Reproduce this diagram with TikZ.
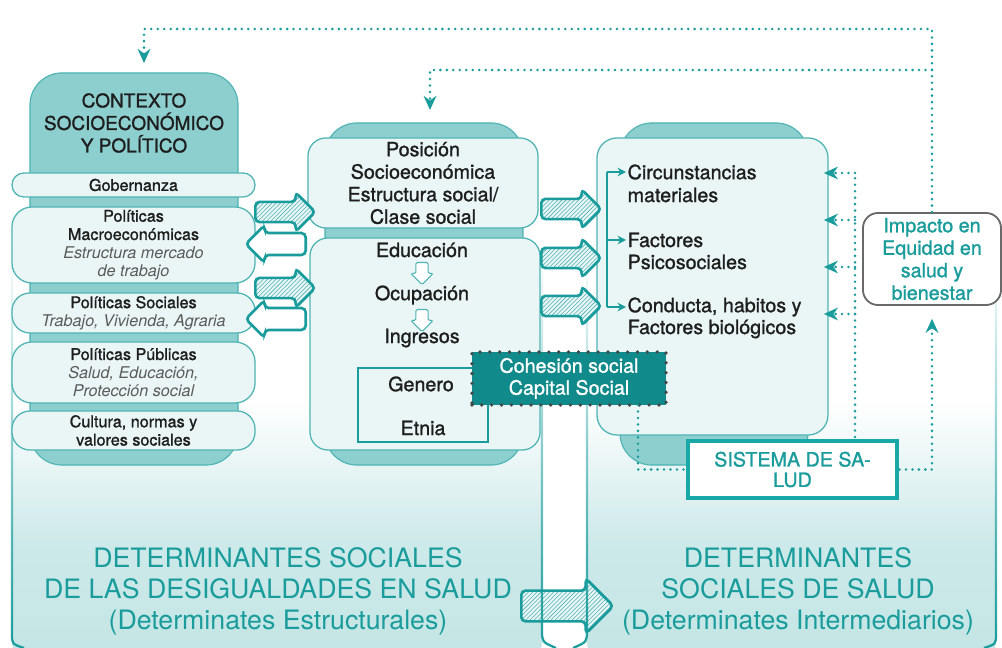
\documentclass[tikz,border=0pt]{standalone}
\usepackage{fontspec}
\setmainfont{TeX Gyre Heros}
\newfontfamily\medfont{TeX Gyre Heros}[FakeBold=1.2]
\usetikzlibrary{arrows.meta,shapes.arrows,patterns,fadings}

\definecolor{tealD}{RGB}{16,138,138}
\definecolor{tealA}{RGB}{26,156,156}
\definecolor{tealS}{RGB}{25,168,168}
\definecolor{tealB}{RGB}{78,180,180}
\definecolor{tealM}{RGB}{141,206,206}
\definecolor{tealL}{RGB}{234,245,245}
\definecolor{panelB}{RGB}{196,229,229}
\definecolor{ink}{RGB}{30,30,30}
\definecolor{inkgray}{RGB}{90,90,90}
\definecolor{dotgray}{RGB}{70,70,70}
\definecolor{rimgray}{RGB}{105,105,105}

\pgfdeclareverticalshading{panelshade}{100bp}{color(0bp)=(panelB); color(25bp)=(panelB); color(34bp)=(panelB!85!white); color(45bp)=(white); color(100bp)=(white)}
\tikzfading[name=fadeup, bottom color=transparent!0, middle color=transparent!60, top color=transparent!100]

\newcommand\subnote[1]{{\rmfamily\itshape\color{inkgray}#1}}

\tikzset{
  panel/.style={shading=panelshade},
  panelrim/.style={draw=tealA, line width=1.6pt, path fading=fadeup},
  backdrop/.style={draw=tealB, fill=tealM, line width=0.8pt, rounded corners=0.8cm},
  layer/.style={draw=tealB, fill=tealL, line width=0.9pt, align=center, inner sep=1pt},
  smalltxt/.style={font=\medfont\fontsize{11.5}{13}\selectfont, text=ink},
  bigtxt/.style={font=\medfont\fontsize{14}{16}\selectfont, text=ink},
  linetxt/.style={bigtxt, anchor=west, inner xsep=1pt},
  bottomtxt/.style={font=\fontsize{19}{22}\selectfont, text=tealA, align=center},
  hatch/.style={single arrow, anchor=tail, single arrow head extend=0.24cm, minimum height=1.5cm,
    inner xsep=0pt, inner ysep=0.22cm, draw=tealA, line width=1.9pt, rounded corners=3pt,
    preaction={fill=tealL}, pattern=north east lines, pattern color=tealB},
  blank/.style={single arrow, anchor=tail, rotate=180, single arrow head extend=0.2cm, minimum height=1.5cm,
    inner xsep=0pt, inner ysep=0.24cm, draw=tealA, line width=1.9pt, rounded corners=3pt,
    fill=white},
  hollow/.style={single arrow, anchor=tail, rotate=-90, single arrow head extend=0.125cm, minimum height=0.55cm,
    inner xsep=0pt, inner ysep=0.14cm, draw=tealB, fill=white, line width=0.8pt, rounded corners=1pt},
  brk/.style={tealA, line width=1pt, -{Stealth[length=6pt,width=6pt]}},
  dotline/.style={tealA, line width=2pt, line cap=round, dash pattern=on 0pt off 4.6pt},
  dotarrow/.style={dotline, -{Stealth[length=10pt,width=9pt]}}
}

\begin{document}
\begin{tikzpicture}[x=0.025cm, y=-0.025cm]
\useasboundingbox (0,0) rectangle (1002,648);

% two big panels
\path[panel, rounded corners=0.5cm] (12,10) rectangle (542,662);
\path[panel, rounded corners=0.5cm] (587,10) rectangle (996,662);
\node[hatch, minimum height=2.3cm, inner ysep=0.35cm, single arrow head extend=0.31cm] (across) at (520,606) {};
\draw[panelrim] (12,250) -- (12,634) .. controls (12,644) .. (24,648);
\draw[panelrim] (542,250) -- (542,630) .. controls (542,642) .. (556,648);
\draw[panelrim] (587,250) -- (587,630) .. controls (587,642) .. (573,648);
\draw[panelrim] (996,250) -- (996,634) .. controls (996,644) .. (984,648);

% backdrops
\node[backdrop, minimum width=5.2cm, minimum height=9.8cm] (ctxbg) at (134,269) {};
\node[backdrop, minimum width=4.95cm, minimum height=8.55cm] (posbg) at (424,294) {};
\node[backdrop, minimum width=4.7cm, minimum height=8.55cm] (interbg) at (714,294) {};

% left column
\node[font=\medfont\fontsize{13.5}{16}\selectfont, text=ink, align=center] (ctx) at (134,123) {CONTEXTO\\SOCIOECONÓMICO\\Y POLÍTICO};
\node[layer, smalltxt, rounded corners=0.3cm, minimum width=6.075cm, minimum height=0.6cm] (gob) at (133.5,185) {Gobernanza};
\node[layer, smalltxt, rounded corners=0.5cm, minimum width=6.075cm, minimum height=1.9cm] (macro) at (133.5,245) {Políticas\\Macroeconómicas\\\subnote{Estructura mercado}\\\subnote{de trabajo}};
\node[layer, smalltxt, rounded corners=0.45cm, minimum width=6.075cm, minimum height=1cm] (psoc) at (133.5,313) {Políticas Sociales\\\subnote{Trabajo, Vivienda, Agraria}};
\node[layer, smalltxt, rounded corners=0.5cm, minimum width=6.075cm, minimum height=1.525cm] (ppub) at (133.5,372.5) {Políticas Públicas\\\subnote{Salud, Educación,}\\\subnote{Protección social}};
\node[layer, smalltxt, rounded corners=0.45cm, minimum width=6.075cm, minimum height=0.975cm] (cult) at (133.5,430.5) {Cultura, normas y\\valores sociales};

% middle column
\node[layer, bigtxt, rounded corners=0.45cm, minimum width=5.75cm, minimum height=2.25cm] (pos) at (423,183) {Posición\\Socioeconómica\\Estructura social/\\Clase social};
\node[layer, rounded corners=0.45cm, minimum width=5.75cm, minimum height=5.3cm] (edu) at (425,344) {};
\node[bigtxt] (educ) at (422,250) {Educación};
\node[hollow] (dn1) at (422,262) {};
\node[bigtxt] (ocup) at (422,295) {Ocupación};
\node[hollow] (dn2) at (422,309) {};
\node[bigtxt] (ingr) at (422,338) {Ingresos};
\node[draw=tealA, line width=1pt, fill=tealL, minimum width=3.25cm, minimum height=1.85cm] (genbox) at (423,405) {};
\node[bigtxt] (gen) at (421,384) {Genero};
\node[bigtxt] (etn) at (423,428) {Etnia};

% right column
\node[layer, rounded corners=0.5cm, minimum width=5.775cm, minimum height=7.425cm] (inter) at (712.5,286.5) {};
\node[linetxt] (circ) at (626,172) {Circunstancias};
\node[linetxt] (mat) at (626,195) {materiales};
\node[linetxt] (fact) at (626,240) {Factores};
\node[linetxt] (psic) at (626,262) {Psicosociales};
\node[linetxt] (cond) at (626,307) {Conducta, habitos y};
\node[linetxt] (bio) at (626,329) {Factores biológicos};
\coordinate (brtop) at (607,172);
\draw[tealA, line width=1pt] (brtop) -- (brtop |- cond.west);
\draw[brk] (brtop) -- (circ.west);
\draw[brk] (brtop |- fact.west) -- (fact.west);
\draw[brk] (brtop |- cond.west) -- (cond.west);

% block arrows
\node[hatch] (sr1) at (254,212) {};
\node[blank] (sl1) at (307,244) {};
\node[hatch] (sr2) at (254,288) {};
\node[blank] (sl2) at (307,319) {};
\node[hatch] (mr1) at (540,209) {};
\node[hatch] (mr2) at (540,258) {};
\node[hatch] (mr3) at (540,306) {};

\node[fill=tealD, draw=dotgray, line width=2.6pt, dash pattern=on 0pt off 7pt, line cap=round,
  minimum width=4.85cm, minimum height=1.325cm, text=white, align=center,
  font=\medfont\fontsize{14}{15.6}\selectfont] (coh) at (569,378.5) {Cohesión social\\Capital Social};

\node[draw=rimgray, line width=1.3pt, fill=white, rounded corners=0.375cm, minimum width=3.45cm,
  minimum height=2.3cm, inner sep=1pt, text=tealA, align=center,
  font=\medfont\fontsize{14}{16}\selectfont] (imp) at (932,259) {Impacto en\\Equidad en\\salud y\\bienestar};
\node[draw=tealS, line width=3.5pt, fill=white, minimum width=5.225cm, minimum height=1.425cm,
  text=tealA, align=center, font=\medfont\fontsize{14}{14.5}\selectfont] (sis) at (792.5,469.5) {SISTEMA DE SA-\\LUD};

% dotted feedback lines
\coordinate (loopA) at (144,29);
\coordinate (ctxin) at (144,63);
\coordinate (loopB) at (430,70);
\coordinate (posin) at (430,110);
\coordinate (cohdn) at (638,405);
\coordinate (sisup) at (855,437);
\coordinate (fbA) at (855,173);
\coordinate (fbB) at (855,220);
\coordinate (fbC) at (855,267);
\coordinate (fbD) at (855,314);
\draw[dotarrow] (imp.north) |- (loopA) -- (ctxin);
\draw[dotarrow] (imp.north |- loopB) -- (loopB) -- (posin);
\draw[dotline] (cohdn) |- (sis.west);
\draw[dotarrow, shorten >=0.32cm] (sis.east) -| (imp.south);
\draw[dotline] (sisup) -- (fbA);
\foreach \f in {fbA,fbB,fbC,fbD}
  \draw[dotarrow, shorten >=-0.12cm] (\f) -- (\f -| inter.east);

% bottom titles
\node[bottomtxt] (detE) at (278,591) {DETERMINANTES SOCIALES\\DE LAS DESIGUALDADES EN SALUD\\(Determinates Estructurales)};
\node[bottomtxt] (detI) at (798,591) {DETERMINANTES\\SOCIALES DE SALUD\\(Determinates Intermediarios)};
\end{tikzpicture}
\end{document}
